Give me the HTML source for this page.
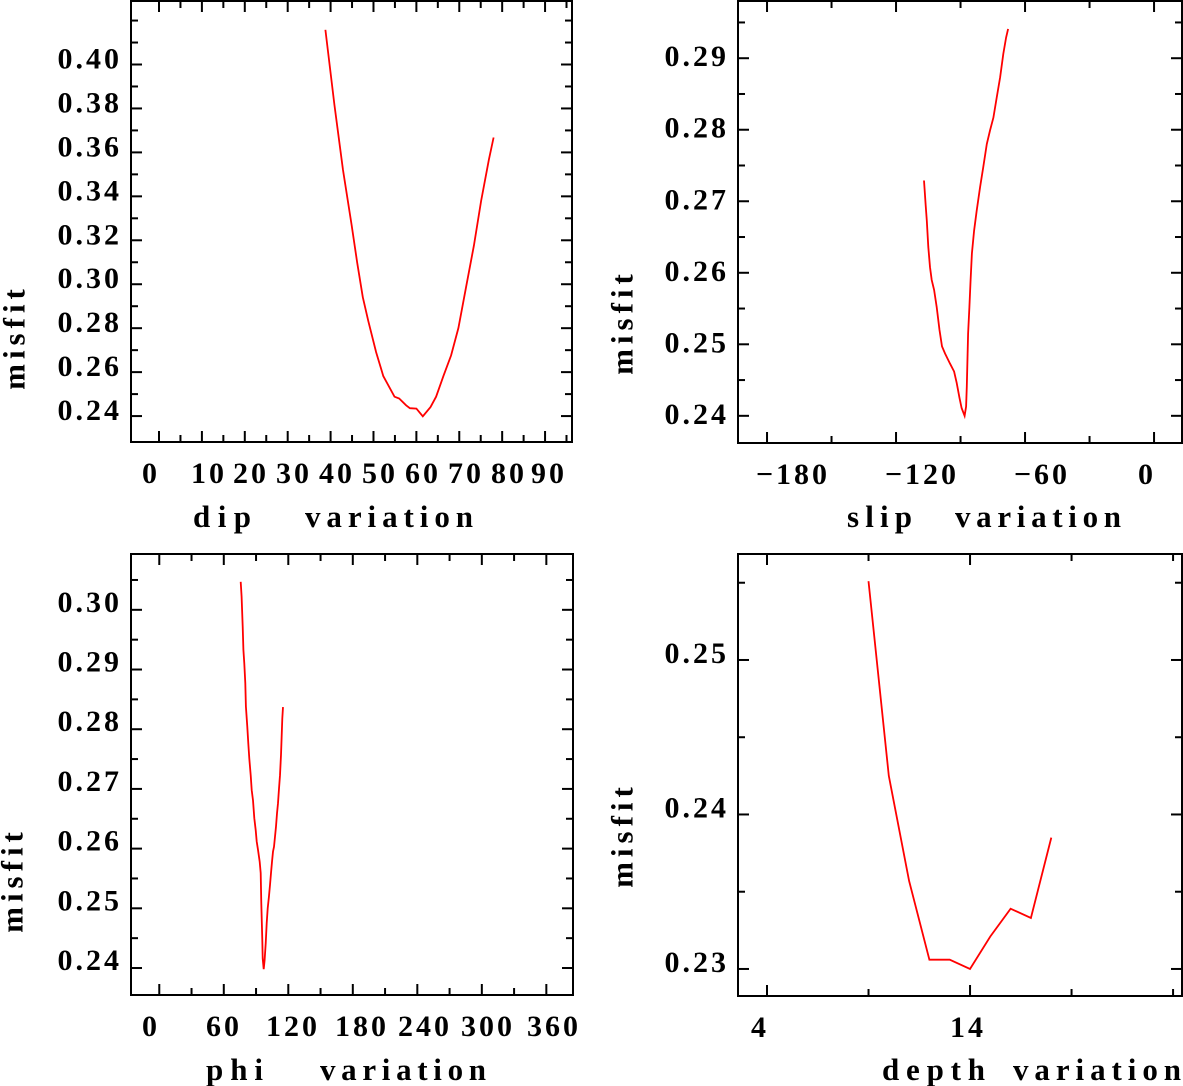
<!DOCTYPE html>
<html><head><meta charset="utf-8">
<style>
html,body{margin:0;padding:0;background:#fff;}
svg{display:block;}
text{font-family:"Liberation Serif",serif;font-size:30px;font-weight:bold;fill:#000;letter-spacing:3px;}
</style></head>
<body>
<svg id="chart" width="1183" height="1086" viewBox="0 0 1183 1086" xmlns="http://www.w3.org/2000/svg"></svg>
<script>
// ---- data ----
const dipX = [38.8,40.9,42.9,44.9,46.2,47.5,48.8,50.6,52.3,54.9,56.0,57.6,58.5,60.0,61.5,63.3,64.6,66.3,68.1,69.8,71.6,73.4,75.1,76.9,78.0];
const dipY = [0.4158,0.3817,0.352,0.327,0.3098,0.2941,0.2832,0.2691,0.2582,0.2488,0.2480,0.2449,0.2436,0.2434,0.2399,0.2441,0.2488,0.2582,0.2676,0.2801,0.2988,0.3176,0.3379,0.3567,0.3668];
const slipX = [-107.0,-106.2,-105.7,-105.0,-104.2,-103.4,-102.3,-101.1,-99.8,-98.6,-97.2,-94.9,-93.0,-91.8,-90.5,-89.5,-88.1,-87.4,-87.1,-86.5,-85.9,-85.3,-84.7,-83.7,-82.5,-80.9,-79.4,-77.8,-76.3,-74.7,-73.2,-71.6,-70.1,-68.8,-67.9];
const slipY = [0.2729,0.2694,0.2673,0.2636,0.2608,0.2590,0.2576,0.2552,0.2520,0.2497,0.2487,0.2473,0.2462,0.2446,0.2425,0.2411,0.2400,0.2413,0.2441,0.2515,0.2552,0.2590,0.2627,0.2659,0.2687,0.2720,0.2748,0.2780,0.2799,0.2817,0.2845,0.2873,0.2906,0.2929,0.2941];
const phiX = [75.7,76.6,77.6,78.2,79.1,80.0,80.6,81.9,82.8,83.7,85.0,86.0,87.2,88.4,89.7,90.6,91.8,93.4,94.3,94.9,95.8,96.2,97.1,98.0,99.0,99.9,100.8,102.0,103.0,103.9,104.8,105.8,106.7,107.6,108.6,109.5,110.4,111.3,112.3,113.2,113.8,114.4,115.1];
const phiY = [0.3047,0.3022,0.2972,0.2933,0.2910,0.2877,0.2838,0.2804,0.2776,0.2751,0.2723,0.2698,0.2681,0.2651,0.2631,0.2612,0.2598,0.2578,0.2559,0.2508,0.2447,0.2416,0.2398,0.2413,0.2441,0.2475,0.2500,0.2519,0.2539,0.2559,0.2578,0.2595,0.2603,0.2620,0.2637,0.2659,0.2676,0.2698,0.2723,0.2757,0.2785,0.2818,0.2837];
const depthX = [9,10,11,12,13,14,15,16,17,18];
const depthY = [0.2551,0.2425,0.2357,0.2306,0.2306,0.2300,0.2321,0.2339,0.2333,0.2385];
// tick values & labels
const dipXTicks = [0,10,20,30,40,50,60,70,80,90];
const dipXLabels = ["0","10","20","30","40","50","60","70","80","90"];
const dipYTicks = [0.24,0.26,0.28,0.30,0.32,0.34,0.36,0.38,0.40];
const dipYLabels = ["0.24","0.26","0.28","0.30","0.32","0.34","0.36","0.38","0.40"];
const slipXTicks = [-180,-120,-60,0];
const slipXLabels = ["\u2212180","\u2212120","\u221260","0"];
const slipYTicks = [0.24,0.25,0.26,0.27,0.28,0.29];
const slipYLabels = ["0.24","0.25","0.26","0.27","0.28","0.29"];
const phiXTicks = [0,60,120,180,240,300,360];
const phiXLabels = ["0","60","120","180","240","300","360"];
const phiYTicks = [0.24,0.25,0.26,0.27,0.28,0.29,0.30];
const phiYLabels = ["0.24","0.25","0.26","0.27","0.28","0.29","0.30"];
const depthXTicks = [4,14];
const depthXLabels = ["4","14"];
const depthYTicks = [0.23,0.24,0.25];
const depthYLabels = ["0.23","0.24","0.25"];

const NS="http://www.w3.org/2000/svg";
const svg=document.getElementById('chart');
function el(tag,attrs,parent){const e=document.createElementNS(NS,tag);for(const k in attrs)e.setAttribute(k,attrs[k]);(parent||svg).appendChild(e);return e;}

const panels=[
 {name:'dip',L:131,R:572,T:1,B:442,x0:-6.53,x1:96.28,y0:0.2282,y1:0.4289,xs:dipX,ys:dipY,xt:dipXTicks,xl:dipXLabels,yt:dipYTicks,yl:dipYLabels,xmin:5,ymin:0.01,xs0:0,ys0:0.24,xlx:[151,209,251,294,337,380,423,466,509,549],ylOff:4,words:[["dip",193,251],["variation",305,473]],ty:527,ytx:14,yty:337},
 {name:'slip',L:738,R:1182,T:1,B:443,x0:-193.5,x1:13.0,y0:0.2362,y1:0.2980,xs:slipX,ys:slipY,xt:slipXTicks,xl:slipXLabels,yt:slipYTicks,yl:slipYLabels,xmin:30,ymin:0.005,xs0:-180,ys0:0.24,xlx:[793,922,1042,1147],ylOff:8,words:[["slip",847,912],["variation",955,1121]],ty:527,ytx:622,yty:322},
 {name:'phi',L:131,R:573,T:554,B:995,x0:-26.3,x1:384.8,y0:0.23548,y1:0.30935,xs:phiX,ys:phiY,xt:phiXTicks,xl:phiXLabels,yt:phiYTicks,yl:phiYLabels,xmin:30,ymin:0.005,xs0:0,ys0:0.24,xlx:[151,224,293,362,425,488,554],ylOff:2,words:[["phi",206,263],["variation",320,486]],ty:1080,ytx:12,yty:880},
 {name:'depth',L:738,R:1182,T:554,B:996,x0:2.571,x1:24.44,y0:0.22825,y1:0.25686,xs:depthX,ys:depthY,xt:depthXTicks,xl:depthXLabels,yt:depthYTicks,yl:depthYLabels,xmin:5,ymin:0.005,xs0:4,ys0:0.23,xlx:[760,968],ylOff:3,words:[["depth",882,985],["variation",1013,1181]],ty:1080,ytx:622,yty:835}
];

panels.forEach(p=>{
 const g=el('g',{});
 
 
 const sx=v=>p.L+(v-p.x0)/(p.x1-p.x0)*(p.R-p.L);
 const sy=v=>p.B-(v-p.y0)/(p.y1-p.y0)*(p.B-p.T);
 const box=el('rect',{x:p.L,y:p.T,width:p.R-p.L,height:p.B-p.T,fill:'none',stroke:'#000','stroke-width':2},g);
 
 
 for(let i=0;;i++){
   const v=p.xs0+i*p.xmin; if(v>p.x1) break;
   const major=p.xt.some(t=>Math.abs(t-v)<1e-6);
   const len=major?11:7;const x=sx(v);
   const t1=el('line',{x1:x,y1:p.B,x2:x,y2:p.B-len,stroke:'#000','stroke-width':2},g);
   
   
   const t2=el('line',{x1:x,y1:p.T,x2:x,y2:p.T+len,stroke:'#000','stroke-width':2},g);
   
   
 }
 for(let i=0;;i++){
   const v=p.ys0+i*p.ymin; if(v>p.y1) break;
   const major=p.yt.some(t=>Math.abs(t-v)<1e-7);
   const len=major?11:7;const y=sy(v);
   const t1=el('line',{x1:p.L,y1:y,x2:p.L+len,y2:y,stroke:'#000','stroke-width':2},g);
   
   
   const t2=el('line',{x1:p.R,y1:y,x2:p.R-len,y2:y,stroke:'#000','stroke-width':2},g);
   
   
 }
 p.xt.forEach((v,i)=>{
   const t=el('text',{x:p.xlx[i],y:p.B+41,'text-anchor':'middle'},g);
   t.textContent=p.xl[i];
   
   
 });
 p.yt.forEach((v,i)=>{
   const t=el('text',{x:p.L-9,y:sy(v)+p.ylOff,'text-anchor':'end'},g);
   t.textContent=p.yl[i];
   
   
 });
 p.words.forEach(w=>{
   const t=el('text',{x:w[1],y:p.ty,textLength:w[2]-w[1],lengthAdjust:'spacing'},g);
   t.textContent=w[0];
   t.setAttribute('style','letter-spacing:0;font-size:31px');
   
   
 });
 const yt=el('text',{x:p.ytx,y:p.yty,'text-anchor':'middle',transform:`rotate(-90 ${p.ytx} ${p.yty})`,'dominant-baseline':'central'},g);
 yt.textContent='misfit';
 yt.setAttribute('style','letter-spacing:5px;font-size:31px');
 
 
 const pts=p.xs.map((x,i)=>sx(x).toFixed(1)+','+sy(p.ys[i]).toFixed(1)).join(' ');
 const line=el('polyline',{points:pts,fill:'none',stroke:'#ff0000','stroke-width':1.8},g);
 
 
});
</script>
</body></html>
